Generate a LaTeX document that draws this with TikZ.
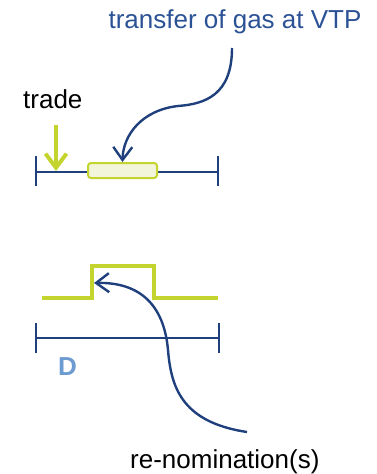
\documentclass[tikz,border=0pt]{standalone}
\usepackage{fontspec}
\setmainfont{Liberation Sans}
\usetikzlibrary{arrows.meta}
\definecolor{navy}{RGB}{31,64,124}
\definecolor{txtblue}{RGB}{44,82,150}
\definecolor{lgreen}{RGB}{196,212,47}
\definecolor{boxfill}{RGB}{242,245,217}
\definecolor{dblue}{RGB}{108,155,210}
\begin{document}
\begin{tikzpicture}[x=1pt,y=-1pt,
  lbl/.style={inner sep=0pt,font=\fontsize{26}{30}\selectfont},
  tline/.style={draw=navy,line width=2pt},
  curvearrow/.style={draw=navy,line width=2.4pt,-{Straight Barb[length=13pt,width=19pt,line width=2.4pt]}},
  greenarrow/.style={draw=lgreen,line width=4pt,-{Straight Barb[length=14pt,width=21pt,line width=4pt]}},
  gbox/.style={draw=lgreen,line width=2pt,fill=boxfill,rounded corners=3pt,minimum width=69pt,minimum height=15pt,inner sep=0pt}
]
\useasboundingbox (0,0) rectangle (376,474);
% texts
\node[lbl,text=txtblue,anchor=base] (vtp) at (235,28) {transfer of gas at VTP};
\node[lbl,anchor=base west] (trade) at (23,108) {trade};
\node[lbl,text=dblue,anchor=base west,font=\fontsize{26}{30}\selectfont\bfseries] (D) at (58,375) {D};
\node[lbl,anchor=base west] (renom) at (130,468) {re-nomination(s)};
% timeline 1
\coordinate (t1a) at (36,172);
\coordinate (t1b) at (218,172);
\draw[tline] (t1a) -- (t1b);
\draw[tline] (36,156) -- (36,186);
\draw[tline] (218,156) -- (218,186);
\node[gbox] (box) at (122.5,170.5) {};
% trade arrow
\coordinate (gs) at (56,125);
\coordinate (ge) at (56,171);
\draw[greenarrow] (gs) -- (ge);
% transfer arrow
\coordinate (c1s) at (232,48);
\draw[curvearrow] (c1s) .. controls (232,95) and (205,104) .. (178,106)
  .. controls (142,110) and (123,135) .. (box.north);
% step line
\draw[draw=lgreen,line width=4pt] (42,298) -- (92,298) -- (92,266) -- (154,266) -- (154,298) -- (218,298);
% timeline 2
\draw[tline] (36,338) -- (219,338);
\draw[tline] (36,323) -- (36,353);
\draw[tline] (219,323) -- (219,353);
% renomination arrow
\coordinate (c2s) at (247,432);
\coordinate (c2e) at (94,283);
\draw[curvearrow] (c2s) .. controls (180,422) and (171,385) .. (168,350)
  .. controls (164,305) and (140,282) .. (c2e);
\end{tikzpicture}
\end{document}
